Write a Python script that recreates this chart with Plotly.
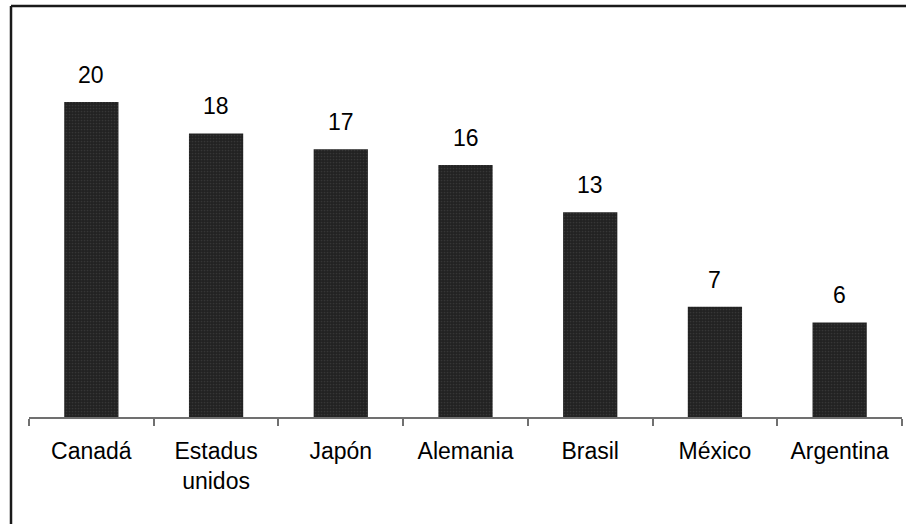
import plotly.graph_objects as go

# Chart data
countries = ["Canadá", "Estadus<br>unidos", "Japón", "Alemania", "Brasil", "México", "Argentina"]
values = [20, 18, 17, 16, 13, 7, 6]

W, H = 906, 524
ML, MR, MT, MB = 29, 4, 35, 107
plot_w = W - ML - MR
plot_h = H - MT - MB
y_max = 24.25

fig = go.Figure()

fig.add_trace(go.Bar(
    x=countries,
    y=values,
    marker=dict(
        color="#252525",
        line=dict(width=0),
        pattern=dict(shape=".", fgcolor="#4a4a4a", bgcolor="#222222", size=3, solidity=0.25),
    ),
    hoverinfo="skip",
))

# Value labels above each bar
for c, v in zip(countries, values):
    fig.add_annotation(
        x=c, y=v, text=str(v), showarrow=False,
        yanchor="middle", yshift=27,
        font=dict(family="Arial, Liberation Sans, sans-serif", size=23, color="#000000"),
    )

# Frame around the chart area (top and left edges visible)
bx = (11 - ML) / plot_w
by = 1 + (MT - 6) / plot_h
frame = dict(color="#1a1a1a", width=2.5)
fig.add_shape(type="line", xref="paper", yref="paper", x0=bx, x1=bx, y0=-1, y1=by, line=frame)
fig.add_shape(type="line", xref="paper", yref="paper", x0=bx, x1=1.5, y0=by, y1=by, line=frame)

fig.update_layout(
    width=W, height=H,
    margin=dict(l=ML, r=MR, t=MT, b=MB),
    paper_bgcolor="white",
    plot_bgcolor="white",
    bargap=0.565,
    showlegend=False,
    font=dict(family="Arial, Liberation Sans, sans-serif", color="#000000"),
    xaxis=dict(
        showline=True, linecolor="#707070", linewidth=1.5,
        ticks="outside", tickson="boundaries", ticklen=7, tickcolor="#707070", tickwidth=1.5,
        tickfont=dict(size=23, color="#000000"),
        ticklabelstandoff=13,
        showgrid=False, zeroline=False,
        range=[-0.5, 6.5],
    ),
    yaxis=dict(
        visible=False, range=[0, y_max],
        showgrid=False, zeroline=False,
    ),
)

fig.write_html("out.html")
